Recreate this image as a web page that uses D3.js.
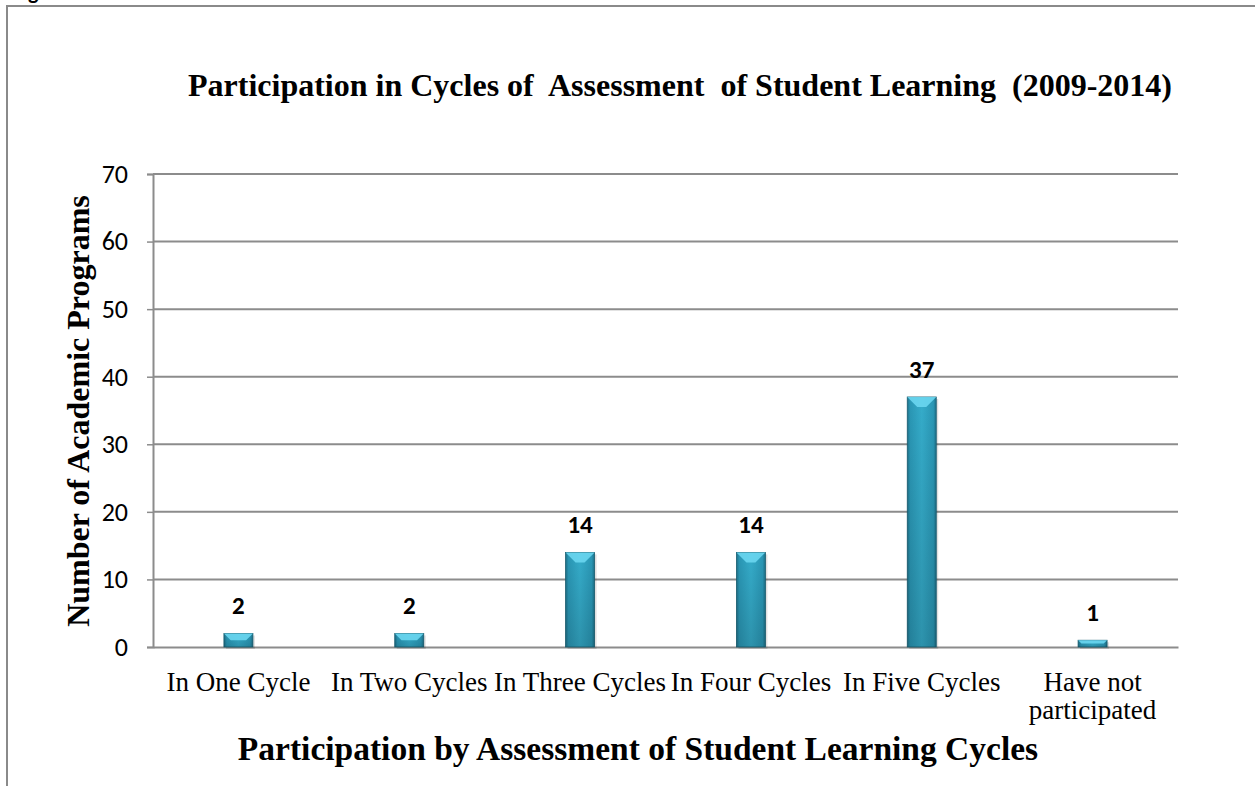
<!DOCTYPE html>
<html>
<head>
<meta charset="utf-8">
<script src="https://cdn.jsdelivr.net/npm/d3@7"></script>
<style>
  body { margin: 0; background: #fff; }
  svg { display: block; }
</style>
</head>
<body>
<script>
// chart data
var categories = ["In One Cycle", "In Two Cycles", "In Three Cycles", "In Four Cycles", "In Five Cycles", "Have not participated"];
var values = [2, 2, 14, 14, 37, 1];
var yTicks = [0, 10, 20, 30, 40, 50, 60, 70];

var canvasX = 1255;
var canvasY = 786;
var margin = {left: 153, right: 77, top: 174, bottom: 139};
var plotW = canvasX - margin.left - margin.right;
var plotH = canvasY - margin.top - margin.bottom;
var serif = "'Liberation Serif', 'Times New Roman', serif";
var sans = "Carlito, 'Open Sans', 'Liberation Sans', sans-serif";

var svg = d3.select("body").append("svg")
    .attr("width", canvasX)
    .attr("height", canvasY);

// frame around the chart
svg.append("rect")
    .attr("x", 7).attr("y", 6)
    .attr("width", canvasX + 20).attr("height", canvasY + 20)
    .attr("fill", "none").attr("stroke", "#8a8a8a").attr("stroke-width", 2);

// leftover glyph cut at the top
svg.append("text")
    .attr("x", 28).attr("y", -1)
    .style("font-family", sans).style("font-weight", "bold").style("font-size", "22px")
    .text("g");

// gradients for the bevelled bars
var defs = svg.append("defs");
var grad = defs.append("linearGradient").attr("id", "barGrad")
    .attr("x1", "0%").attr("x2", "100%").attr("y1", "0%").attr("y2", "0%");
grad.append("stop").attr("offset", "0%").attr("stop-color", "#1e7088");
grad.append("stop").attr("offset", "10%").attr("stop-color", "#2a97b5");
grad.append("stop").attr("offset", "50%").attr("stop-color", "#35acca");
grad.append("stop").attr("offset", "90%").attr("stop-color", "#2a97b5");
grad.append("stop").attr("offset", "100%").attr("stop-color", "#1e7088");

var vGrad = defs.append("linearGradient").attr("id", "barShade")
    .attr("x1", "0%").attr("x2", "0%").attr("y1", "0%").attr("y2", "100%");
vGrad.append("stop").attr("offset", "0%").attr("stop-color", "#000").attr("stop-opacity", 0);
vGrad.append("stop").attr("offset", "100%").attr("stop-color", "#000").attr("stop-opacity", 0.15);

var g = svg.append("g").attr("transform", "translate(" + margin.left + "," + margin.top + ")");

// scales
var x = d3.scaleBand().domain(categories).range([0, plotW]);
var y = d3.scaleLinear().domain([0, 70]).range([plotH, 0]);

// gridlines
g.selectAll(".grid")
    .data(yTicks.slice(1))
    .enter().append("line")
    .attr("x1", 0).attr("x2", plotW)
    .attr("y1", function(d) { return y(d); })
    .attr("y2", function(d) { return y(d); })
    .attr("stroke", "#8c8c8c").attr("stroke-width", 2);

// y axis
var yAxis = g.append("g")
    .call(d3.axisLeft(y).tickValues(yTicks).tickSize(6).tickPadding(19));
yAxis.select(".domain").attr("stroke", "#8c8c8c").attr("stroke-width", 2);
yAxis.selectAll(".tick line").attr("stroke", "#8c8c8c").attr("stroke-width", 1.5);
yAxis.selectAll("text")
    .style("font-family", sans).style("font-size", "26px").attr("fill", "#000");

// x axis baseline
var xAxis = g.append("g")
    .attr("transform", "translate(0," + plotH + ")")
    .call(d3.axisBottom(x).tickSize(0).tickFormat(""));
xAxis.select(".domain").attr("stroke", "#8c8c8c").attr("stroke-width", 2);

// category labels, wrapped where needed
var wrap = {"Have not participated": ["Have not", "participated"]};
categories.forEach(function(c) {
    var lines = wrap[c] || [c];
    var t = g.append("text")
        .attr("x", x(c) + x.bandwidth() / 2)
        .attr("y", plotH + 44)
        .attr("text-anchor", "middle")
        .style("font-family", serif).style("font-size", "27px");
    lines.forEach(function(l, i) {
        t.append("tspan")
            .attr("x", x(c) + x.bandwidth() / 2)
            .attr("dy", i == 0 ? 0 : 28)
            .text(l);
    });
});

// bars
var barW = 29;
var bars = g.selectAll(".bar")
    .data(values)
    .enter().append("g")
    .attr("class", "bar")
    .attr("transform", function(d, i) {
        return "translate(" + (x(categories[i]) + x.bandwidth() / 2 - barW / 2) + ",0)";
    });

// soft shadow
bars.append("rect")
    .attr("x", 2).attr("y", function(d) { return y(d) + 2; })
    .attr("width", barW).attr("height", function(d) { return plotH - y(d); })
    .attr("fill", "#000").attr("opacity", 0.12);

bars.append("rect")
    .attr("y", function(d) { return y(d); })
    .attr("width", barW).attr("height", function(d) { return plotH - y(d); })
    .attr("fill", "url(#barGrad)").attr("stroke", "#1a5f72").attr("stroke-width", 0.8);

bars.append("rect")
    .attr("y", function(d) { return y(d); })
    .attr("width", barW).attr("height", function(d) { return plotH - y(d); })
    .attr("fill", "url(#barShade)");

// light top bevel
bars.append("path")
    .attr("d", function(d) {
        var top = y(d);
        var bev = Math.min(10, (plotH - top) / 2);
        var inset = Math.min(bev, barW / 2 - 3);
        return "M0," + top + "L" + barW + "," + top + "L" + (barW - inset) + "," + (top + bev) +
               "L" + inset + "," + (top + bev) + "Z";
    })
    .attr("fill", "#6ad6ef").attr("opacity", 0.9);

// value labels
g.selectAll(".val")
    .data(values)
    .enter().append("text")
    .attr("x", function(d, i) { return x(categories[i]) + x.bandwidth() / 2; })
    .attr("y", function(d) { return y(d) - 19; })
    .attr("text-anchor", "middle")
    .style("font-family", sans).style("font-weight", "bold").style("font-size", "25px")
    .text(function(d) { return d; });

// title
svg.append("text")
    .attr("x", 680).attr("y", 96)
    .attr("text-anchor", "middle")
    .attr("xml:space", "preserve")
    .style("white-space", "pre")
    .style("font-family", serif).style("font-weight", "bold").style("font-size", "32px")
    .text("Participation in Cycles of  Assessment  of Student Learning  (2009-2014)");

// x axis title
svg.append("text")
    .attr("x", 638).attr("y", 760)
    .attr("text-anchor", "middle")
    .style("font-family", serif).style("font-weight", "bold").style("font-size", "33.5px")
    .text("Participation by Assessment of Student Learning Cycles");

// y axis title
svg.append("text")
    .attr("transform", "translate(89,411) rotate(-90)")
    .attr("text-anchor", "middle")
    .style("font-family", serif).style("font-weight", "bold").style("font-size", "32px")
    .text("Number of Academic Programs");
</script>
</body>
</html>
